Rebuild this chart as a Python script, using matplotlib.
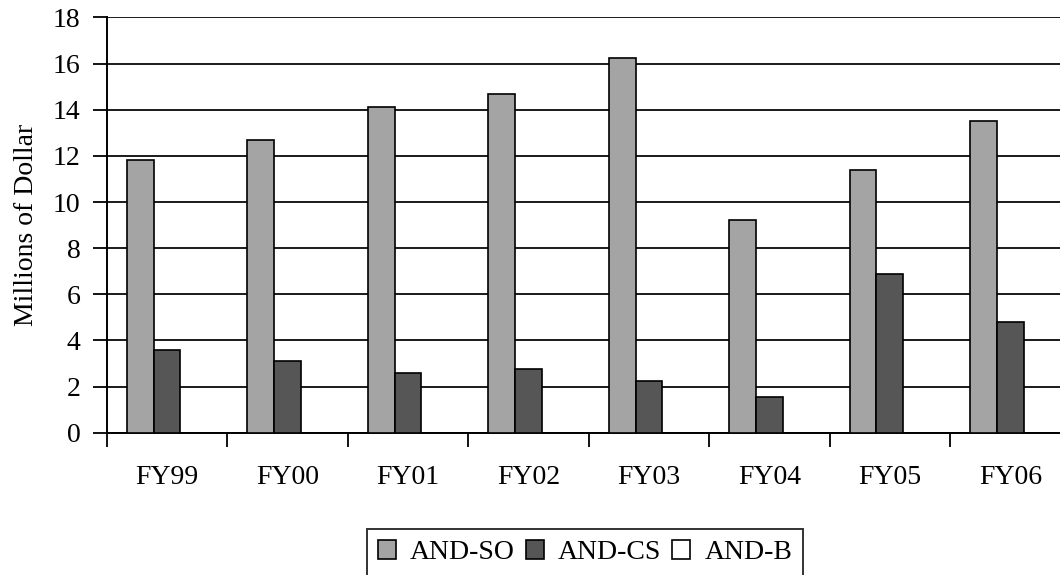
import numpy as np
import matplotlib
matplotlib.use("Agg")
import matplotlib.pyplot as plt

years = ["FY99", "FY00", "FY01", "FY02", "FY03", "FY04", "FY05", "FY06"]
and_so = [11.8, 12.7, 14.1, 14.7, 16.25, 9.2, 11.4, 13.5]
and_cs = [3.6, 3.1, 2.6, 2.75, 2.25, 1.55, 6.9, 4.8]
and_b = [0, 0, 0, 0, 0, 0, 0, 0]

plt.rcParams['font.family'] = ['Liberation Serif', 'DejaVu Serif']

fig = plt.figure(figsize=(10.6, 5.75), dpi=100)
ax = fig.add_axes([0.1007, 0.2475, 0.9093, 0.7221])

x = np.arange(len(years))
w = 1 / 4.5
ax.bar(x - w, and_so, w, color="#a4a4a4", edgecolor="black", linewidth=1.2, label="AND-SO", zorder=3)
ax.bar(x, and_cs, w, color="#565656", edgecolor="black", linewidth=1.2, label="AND-CS", zorder=3)
ax.bar(x + w, and_b, w, color="white", edgecolor="black", linewidth=1.2, label="AND-B", zorder=3)

ax.set_xlim(-0.5, len(years) - 0.5)
ax.set_ylim(0, 18)
ax.set_yticks(range(0, 19, 2))
ax.yaxis.grid(True, color="#1a1a1a", linewidth=1.4)
ax.set_axisbelow(True)

# labels sit at the group centres, tick marks at the group boundaries
ax.set_xticks(x)
ax.set_xticklabels(years, fontsize=20)
ax.set_xticks(np.arange(-0.5, len(years), 1), minor=True)
ax.tick_params(axis="x", which="major", length=0, pad=23)
ax.tick_params(axis="x", which="minor", length=10, width=1.3, direction="out")
ax.tick_params(axis="y", length=10, width=1.3, pad=9, labelsize=20)

for side in ["top", "right"]:
    ax.spines[side].set_visible(False)
ax.spines["left"].set_linewidth(1.4)
ax.spines["bottom"].set_linewidth(1.4)

ax.set_ylabel("Millions of Dollar", fontsize=20, labelpad=10)

leg = fig.legend(loc="upper center", bbox_to_anchor=(0.552, 0.08), ncol=3, fontsize=20,
                 frameon=True, fancybox=False, edgecolor="black", handlelength=0.65,
                 handleheight=0.65, handletextpad=0.5, columnspacing=0.4, borderpad=0.4,
                 borderaxespad=0)
leg.get_frame().set_linewidth(1.4)

fig.savefig("out.png", dpi=100)
